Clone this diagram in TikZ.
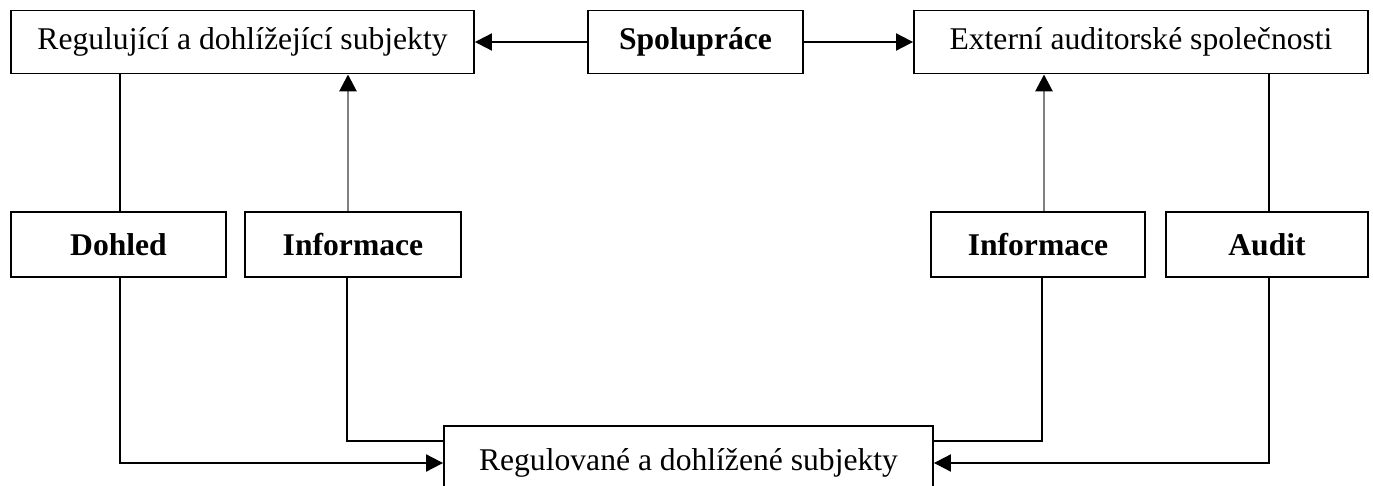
\documentclass[tikz,border=0pt]{standalone}
\usepackage{fontspec}
\setmainfont{Liberation Serif}
\usetikzlibrary{calc,arrows.meta}

\tikzset{
  box/.style={draw,line width=1.1pt,minimum height=1.26cm,inner sep=0pt},
  boldbox/.style={box,minimum height=1.3cm,font=\fontsize{18}{21}\selectfont\bfseries},
  tip/.style={-{Triangle[length=0.34cm,width=0.34cm,color=black]}},
  info/.style={tip,draw=black!50,line width=1.6pt},
  link/.style={line width=1.1pt}
}

\begin{document}
\begin{tikzpicture}[x=0.02cm,y=-0.02cm,font=\fontsize{18}{21}\selectfont]
\clip (0,0) rectangle (1373,486);

% top row
\node[box,minimum width=9.26cm] (reg) at (242.5,42) {Regulující a dohlížející subjekty};
\node[boldbox,minimum width=4.3cm,minimum height=1.26cm] (spol) at (695.5,42) {Spolupráce};
\node[box,minimum width=9.08cm] (ext) at (1141,42) {Externí auditorské společnosti};

% middle row
\node[boldbox,minimum width=4.3cm] (dohled) at (118.5,244.5) {Dohled};
\node[boldbox,minimum width=4.32cm] (info1) at (353,244.5) {Informace};
\node[boldbox,minimum width=4.28cm] (info2) at (1038,244.5) {Informace};
\node[boldbox,minimum width=4.04cm] (audit) at (1267,244.5) {Audit};

% bottom
\node[box,minimum width=9.78cm,minimum height=1.48cm] (bot) at (688.5,463) {Regulované a dohlížené subjekty};
\coordinate (botl) at ($(bot.west)+(0,-22)$);
\coordinate (botr) at ($(bot.east)+(0,-22)$);

% spoluprace
\draw[link,tip] (spol) -- (reg);
\draw[link,tip] (spol) -- (ext);

% left side
\draw[link] ([xshift=0.03cm]dohled.north) -- ([xshift=0.03cm]dohled.north |- reg.south);
\draw[link,tip] ([xshift=0.03cm]dohled.south) |- (bot.west);
\draw[info] ([xshift=-0.1cm]info1.north) -- ([xshift=-0.1cm]info1.north |- reg.south);
\draw[link] ([xshift=-0.12cm]info1.south) |- (botl);

% right side
\draw[link] ([xshift=0.04cm]audit.north) -- ([xshift=0.04cm]audit.north |- ext.south);
\draw[link,tip] ([xshift=0.04cm]audit.south) |- (bot.east);
\draw[info] ([xshift=0.12cm]info2.north) -- ([xshift=0.12cm]info2.north |- ext.south);
\draw[link] ([xshift=0.08cm]info2.south) |- (botr);

\end{tikzpicture}
\end{document}
